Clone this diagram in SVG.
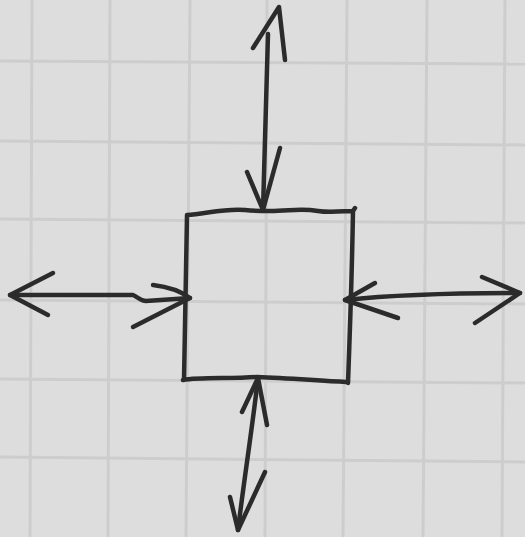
<svg xmlns="http://www.w3.org/2000/svg" width="525" height="537" viewBox="0 0 525 537">
<style>
.grid line{stroke:#cdcdcd;stroke-width:3}
.ink{fill:none;stroke:#2b2b2b;stroke-width:4.5;stroke-linecap:round;stroke-linejoin:round}
</style>
<rect width="525" height="537" fill="#dddddd"/>
<g class="grid">
<line x1="32" y1="0" x2="30" y2="537"/>
<line x1="110" y1="0" x2="108" y2="537"/>
<line x1="190" y1="0" x2="186" y2="537"/>
<line x1="267" y1="0" x2="265" y2="537"/>
<line x1="347" y1="0" x2="343" y2="537"/>
<line x1="427" y1="0" x2="423" y2="537"/>
<line x1="505" y1="0" x2="502" y2="537"/>
<line x1="0" y1="61" x2="525" y2="64"/>
<line x1="0" y1="141" x2="525" y2="145"/>
<line x1="0" y1="219" x2="525" y2="223"/>
<line x1="0" y1="300" x2="525" y2="304"/>
<line x1="0" y1="379" x2="525" y2="383"/>
<line x1="0" y1="457" x2="525" y2="462"/>
</g>
<g id="box">
<path class="ink" d="M187,215 C205,214 225,208 245,210 C255,211 262,211 270,211 C290,211 300,208 318,211 C330,213 345,211 353,211 L355,208 M353,211 C352,270 350,330 348,383 M187,215 C186,270 185,330 184,380 M183,380 C200,377 230,379 257,377 C290,378 320,381 346,382"/>
</g>
<g id="connectors">
<g id="arrow-top">
<path class="ink" d="M268,34 C266,90 265,150 263,210"/>
<path class="ink" d="M253,48 L279,7 L285,60"/>
<path class="ink" d="M247,172 L263,210 L280,148"/>
</g>
<g id="arrow-left">
<path class="ink" d="M10,295 L133,295 C138,297 140,301 146,301 L190,298"/>
<path class="ink" d="M53,273 L10,295 L48,315"/>
<path class="ink" d="M153,285 C170,287 182,292 190,298 L133,327"/>
</g>
<g id="arrow-right">
<path class="ink" d="M345,300 C400,294 460,293 520,293"/>
<path class="ink" d="M375,283 L345,300 L398,318"/>
<path class="ink" d="M482,277 L520,293 L475,323"/>
</g>
<g id="arrow-bottom">
<path class="ink" d="M258,378 C252,430 244,480 238,530"/>
<path class="ink" d="M242,412 L258,378 L267,425"/>
<path class="ink" d="M230,497 L238,530 L265,472"/>
</g>
</g>
</svg>
